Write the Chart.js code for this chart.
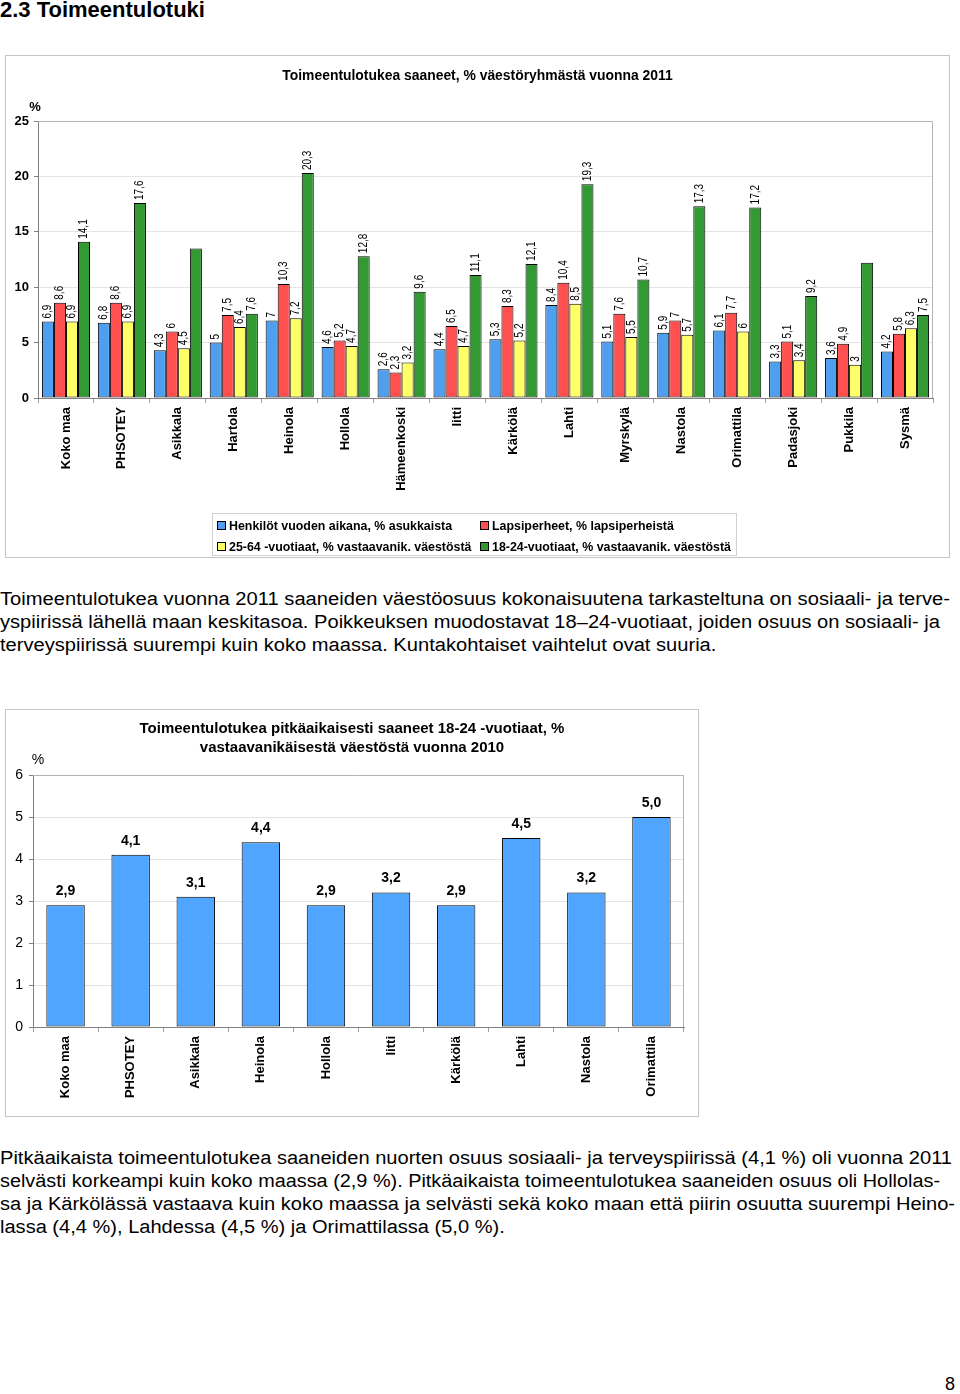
<!DOCTYPE html>
<html>
<head>
<meta charset="utf-8">
<script src="https://cdn.jsdelivr.net/npm/chart.js@4.4.1/dist/chart.umd.min.js"></script>
<style>
  body { margin: 0; background: #fff; font-family: "Liberation Sans", Arial, sans-serif; color: #000; }
  #page { position: relative; width: 960px; height: 1394px; overflow: hidden; }
  .box { position: absolute; border: 1px solid #c4c4c4; box-sizing: border-box; }
  .chart-wrap { position: absolute; }
  h1 { position: absolute; left: 0; top: -2px; margin: 0; font-size: 22px; line-height: 24px; font-weight: bold; }
  .line { position: absolute; left: 0; white-space: nowrap; font-size: 18px; line-height: 23px; transform-origin: 0 0; }
  #legend1 { position: absolute; left: 212px; top: 513px; width: 525px; height: 43px; border: 1px solid #d0d0d0;
    box-sizing: border-box; display: grid; grid-template-columns: 263px 1fr; grid-auto-rows: 21px;
    padding: 1px 0 0 4px; font-size: 12.4px; font-weight: bold; }
  .lg-item { display: flex; align-items: center; white-space: nowrap; }
  .sw { display: inline-block; width: 7px; height: 7px; border: 1px solid #000; margin-right: 3px; }
  #pagenum { position: absolute; left: 945px; top: 1374px; font-size: 18px; }
</style>
</head>
<body>
<div id="page">
  <h1>2.3 Toimeentulotuki</h1>

  <div class="box" style="left:5px;top:55px;width:945px;height:503px;"></div>
  <div class="chart-wrap" style="left:5px;top:55px;width:945px;height:503px;"><canvas id="chart1"></canvas></div>
  <div id="legend1"></div>

  <div class="para">
    <div class="line" data-w="950" style="top:588px;">Toimeentulotukea vuonna 2011 saaneiden väestöosuus kokonaisuutena tarkasteltuna on sosiaali- ja terve-</div>
    <div class="line" data-w="940" style="top:611px;">yspiirissä lähellä maan keskitasoa. Poikkeuksen muodostavat 18–24-vuotiaat, joiden osuus on sosiaali- ja</div>
    <div class="line" style="top:634px;">terveyspiirissä suurempi kuin koko maassa. Kuntakohtaiset vaihtelut ovat suuria.</div>
  </div>

  <div class="box" style="left:5px;top:709px;width:694px;height:408px;"></div>
  <div class="chart-wrap" style="left:5px;top:709px;width:694px;height:408px;"><canvas id="chart2"></canvas></div>

  <div class="para">
    <div class="line" data-w="952" style="top:1147px;">Pitkäaikaista toimeentulotukea saaneiden nuorten osuus sosiaali- ja terveyspiirissä (4,1 %) oli vuonna 2011</div>
    <div class="line" data-w="940" style="top:1170px;">selvästi korkeampi kuin koko maassa (2,9 %). Pitkäaikaista toimeentulotukea saaneiden osuus oli Hollolas-</div>
    <div class="line" data-w="955" style="top:1193px;">sa ja Kärkölässä vastaava kuin koko maassa ja selvästi sekä koko maan että piirin osuutta suurempi Heino-</div>
    <div class="line" style="top:1216px;">lassa (4,4 %), Lahdessa (4,5 %) ja Orimattilassa (5,0 %).</div>
  </div>

  <div id="pagenum">8</div>
</div>

<script>
const FONT = '"Liberation Sans", Arial, sans-serif';

// Chart 1 data
const kunnat = ["Koko maa", "PHSOTEY", "Asikkala", "Hartola", "Heinola", "Hollola", "Hämeenkoski", "Iitti",
  "Kärkölä", "Lahti", "Myrskylä", "Nastola", "Orimattila", "Padasjoki", "Pukkila", "Sysmä"];
const henkilot = [6.9, 6.8, 4.3, 5, 7, 4.6, 2.6, 4.4, 5.3, 8.4, 5.1, 5.9, 6.1, 3.3, 3.6, 4.2];
const lapsiperheet = [8.6, 8.6, 6, 7.5, 10.3, 5.2, 2.3, 6.5, 8.3, 10.4, 7.6, 7, 7.7, 5.1, 4.9, 5.8];
const aikuiset = [6.9, 6.9, 4.5, 6.4, 7.2, 4.7, 3.2, 4.7, 5.2, 8.5, 5.5, 5.7, 6, 3.4, 3, 6.3];
const nuoret = [14.1, 17.6, 13.5, 7.6, 20.3, 12.8, 9.6, 11.1, 12.1, 19.3, 10.7, 17.3, 17.2, 9.2, 12.2, 7.5];
const nuoretIlmanArvoa = ["Asikkala", "Pukkila"]; // no value label in the original
const yTicks1 = [0, 5, 10, 15, 20, 25];

// Chart 2 data
const kunnat2 = ["Koko maa", "PHSOTEY", "Asikkala", "Heinola", "Hollola", "Iitti", "Kärkölä", "Lahti", "Nastola", "Orimattila"];
const pitkaaikaiset = [2.9, 4.1, 3.1, 4.4, 2.9, 3.2, 2.9, 4.5, 3.2, 5.0];
const yTicks2 = [0, 1, 2, 3, 4, 5, 6];

const comma = (v, d) => (d == null ? String(v) : v.toFixed(d)).replace(".", ",");

// Title centred on the whole box (not on the padded layout area)
const boxTitle = {
  id: "boxTitle",
  afterDraw(chart, args, opts) {
    const { ctx } = chart;
    ctx.save();
    ctx.font = opts.font;
    ctx.fillStyle = "#000";
    ctx.textAlign = "center";
    ctx.textBaseline = "middle";
    opts.lines.forEach((t, i) => ctx.fillText(t, chart.width / 2, opts.y[i]));
    ctx.restore();
  },
};

// Plot area frame (top + right edge)
const plotFrame = {
  id: "plotFrame",
  beforeDatasetsDraw(chart) {
    const { ctx, chartArea: a } = chart;
    ctx.save();
    ctx.strokeStyle = "#b4b4b4";
    ctx.lineWidth = 1;
    ctx.beginPath();
    ctx.moveTo(a.left, Math.round(a.top) + 0.5);
    ctx.lineTo(Math.round(a.right) - 0.5, Math.round(a.top) + 0.5);
    ctx.lineTo(Math.round(a.right) - 0.5, a.bottom);
    ctx.stroke();
    ctx.restore();
  },
};

// "%" unit above the y axis
const unitLabel = {
  id: "unitLabel",
  afterDraw(chart, args, opts) {
    const { ctx, chartArea: a } = chart;
    ctx.save();
    ctx.font = opts.font;
    ctx.fillStyle = "#000";
    ctx.textAlign = "center";
    ctx.textBaseline = "middle";
    ctx.fillText(opts.text, a.left + opts.dx, a.top + opts.dy);
    ctx.restore();
  },
};

// Value labels on bars
const valueLabels = {
  id: "valueLabels",
  afterDatasetsDraw(chart, args, opts) {
    const { ctx } = chart;
    ctx.save();
    ctx.font = opts.font;
    ctx.fillStyle = "#000";
    chart.data.datasets.forEach((ds, di) => {
      chart.getDatasetMeta(di).data.forEach((bar, i) => {
        if (opts.skip && opts.skip(di, i)) return;
        const txt = opts.format(ds.data[i]);
        if (opts.rotate) {
          // narrow, upright-reading label like the original
          ctx.save();
          ctx.translate(bar.x, bar.y - opts.offset);
          ctx.rotate(-Math.PI / 2);
          ctx.scale(opts.squeeze || 1, 1);
          ctx.textAlign = "left";
          ctx.textBaseline = "middle";
          ctx.fillText(txt, 0, 0);
          ctx.restore();
        } else {
          ctx.textAlign = "center";
          ctx.textBaseline = "middle";
          ctx.fillText(txt, bar.x, bar.y - opts.offset);
        }
      });
    });
    ctx.restore();
  },
};

Chart.defaults.font.family = FONT;
Chart.defaults.color = "#000";

const barStyle = { borderColor: "#000", borderWidth: 1, borderSkipped: false };

const chart1 = new Chart(document.getElementById("chart1"), {
  type: "bar",
  data: {
    labels: kunnat,
    datasets: [
      { label: "Henkilöt vuoden aikana, % asukkaista", data: henkilot, backgroundColor: "#4f9ff0", ...barStyle },
      { label: "Lapsiperheet, % lapsiperheistä", data: lapsiperheet, backgroundColor: "#ff4f4f", ...barStyle },
      { label: "25-64 -vuotiaat, % vastaavanik. väestöstä", data: aikuiset, backgroundColor: "#ffff66", ...barStyle },
      { label: "18-24-vuotiaat, % vastaavanik. väestöstä", data: nuoret, backgroundColor: "#339933", ...barStyle },
    ],
  },
  options: {
    responsive: true,
    maintainAspectRatio: false,
    animation: false,
    events: [],
    categoryPercentage: 0.86,
    barPercentage: 1,
    layout: { padding: { top: 66, left: 0, right: 17, bottom: 0 } },
    plugins: {
      legend: { display: false },
      tooltip: { enabled: false },
      title: { display: false },
      boxTitle: {
        lines: ["Toimeentulotukea saaneet, % väestöryhmästä vuonna 2011"],
        font: "bold 13.9px " + FONT,
        y: [21],
      },
      unitLabel: { text: "%", font: "bold 13px " + FONT, dx: -3, dy: -14 },
      valueLabels: {
        rotate: true,
        offset: 3,
        squeeze: 0.8,
        font: "12.5px " + FONT,
        format: (v) => comma(v),
        skip: (di, i) => di === 3 && nuoretIlmanArvoa.includes(kunnat[i]),
      },
    },
    scales: {
      x: {
        border: { display: true, color: "#808080" },
        grid: { display: true, offset: true, drawOnChartArea: false, drawTicks: true, tickLength: 5, tickColor: "#a0a0a0" },
        ticks: { autoSkip: false, minRotation: 90, maxRotation: 90, padding: 4, font: { size: 13, weight: "bold" } },
        afterFit: (s) => { s.height = 160; },
      },
      y: {
        min: yTicks1[0],
        max: yTicks1[yTicks1.length - 1],
        border: { display: true, color: "#808080" },
        grid: { color: "#e4e4e4", tickColor: "#808080", tickLength: 4 },
        ticks: { stepSize: yTicks1[1] - yTicks1[0], padding: 5, font: { size: 13, weight: "bold" } },
        afterFit: (s) => { s.width = 33; },
      },
    },
  },
  plugins: [plotFrame, unitLabel, valueLabels, boxTitle],
});

// HTML legend in two columns, built from the datasets
const legendEl = document.getElementById("legend1");
chart1.data.datasets.forEach((ds) => {
  const item = document.createElement("div");
  item.className = "lg-item";
  const sw = document.createElement("span");
  sw.className = "sw";
  sw.style.background = ds.backgroundColor;
  item.appendChild(sw);
  item.appendChild(document.createTextNode(ds.label));
  legendEl.appendChild(item);
});

new Chart(document.getElementById("chart2"), {
  type: "bar",
  data: {
    labels: kunnat2,
    datasets: [
      { label: "Pitkäaikaiset 18-24 -vuotiaat", data: pitkaaikaiset, backgroundColor: "#4fa5ff", ...barStyle },
    ],
  },
  options: {
    responsive: true,
    maintainAspectRatio: false,
    animation: false,
    events: [],
    categoryPercentage: 1,
    barPercentage: 0.59,
    layout: { padding: { top: 66, left: 0, right: 15, bottom: 0 } },
    plugins: {
      legend: { display: false },
      tooltip: { enabled: false },
      title: { display: false },
      boxTitle: {
        lines: ["Toimeentulotukea pitkäaikaisesti saaneet 18-24 -vuotiaat, %", "vastaavanikäisestä väestöstä vuonna 2010"],
        font: "bold 15px " + FONT,
        y: [19.5, 38.5],
      },
      unitLabel: { text: "%", font: "14px " + FONT, dx: 5, dy: -15 },
      valueLabels: {
        rotate: false,
        offset: 14,
        font: "bold 14px " + FONT,
        format: (v) => comma(v, 1),
      },
    },
    scales: {
      x: {
        border: { display: true, color: "#808080" },
        grid: { display: true, offset: true, drawOnChartArea: false, drawTicks: true, tickLength: 5, tickColor: "#a0a0a0" },
        ticks: { autoSkip: false, minRotation: 90, maxRotation: 90, padding: 4, font: { size: 13, weight: "bold" } },
        afterFit: (s) => { s.height = 90; },
      },
      y: {
        min: yTicks2[0],
        max: yTicks2[yTicks2.length - 1],
        border: { display: true, color: "#808080" },
        grid: { color: "#e4e4e4", tickColor: "#808080", tickLength: 4 },
        ticks: { stepSize: yTicks2[1] - yTicks2[0], padding: 6, font: { size: 14 } },
        afterFit: (s) => { s.width = 28; },
      },
    },
  },
  plugins: [plotFrame, unitLabel, valueLabels, boxTitle],
});

// Fit paragraph lines to the justified widths of the original
document.querySelectorAll(".para").forEach((p) => {
  let s = 1;
  p.querySelectorAll(".line").forEach((ln) => {
    const w = ln.getBoundingClientRect().width;
    if (ln.dataset.w) s = Number(ln.dataset.w) / w;
    ln.style.transform = "scaleX(" + s + ")";
  });
});
</script>
</body>
</html>
